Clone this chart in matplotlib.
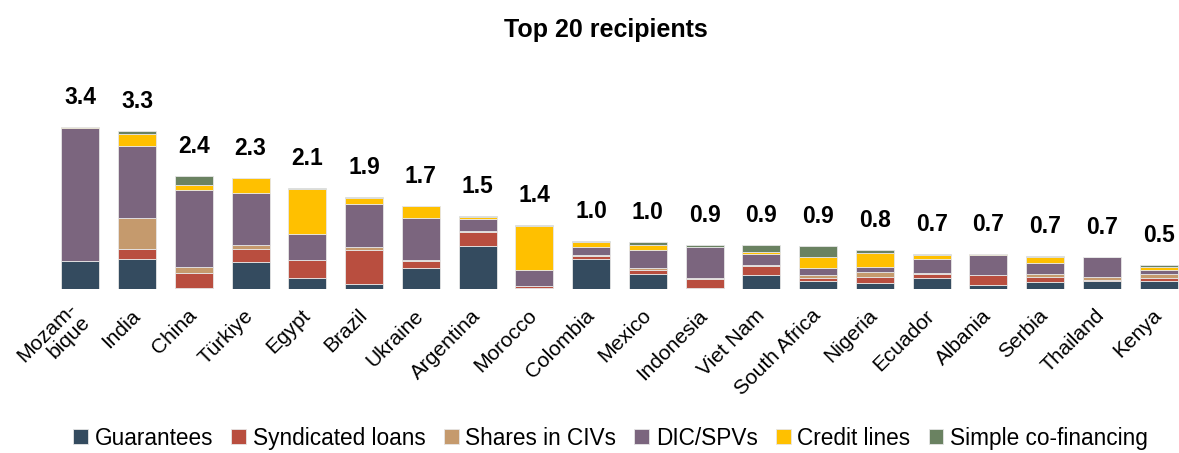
import numpy as np
import matplotlib
matplotlib.use("Agg")
import matplotlib.pyplot as plt
from matplotlib import font_manager

# -------------------------------
# Data (USD billion, by instrument)
# -------------------------------
countries = ["Mozam-\nbique", "India", "China", "Türkiye", "Egypt", "Brazil", "Ukraine",
             "Argentina", "Morocco", "Colombia", "Mexico", "Indonesia", "Viet Nam",
             "South Africa", "Nigeria", "Ecuador", "Albania", "Serbia", "Thailand", "Kenya"]

guarantees = [0.58, 0.64, 0.03, 0.57, 0.24, 0.10, 0.45, 0.91, 0.03, 0.64,
              0.31, 0.03, 0.29, 0.17, 0.13, 0.24, 0.09, 0.15, 0.17, 0.16]
syndicated = [0.00, 0.20, 0.31, 0.27, 0.36, 0.71, 0.13, 0.28, 0.03, 0.06,
              0.08, 0.18, 0.19, 0.07, 0.13, 0.08, 0.20, 0.11, 0.03, 0.08]
shares_civs = [0.00, 0.65, 0.13, 0.08, 0.01, 0.08, 0.03, 0.03, 0.01, 0.01,
               0.05, 0.02, 0.02, 0.05, 0.09, 0.02, 0.00, 0.05, 0.05, 0.08]
dic_spvs = [2.80, 1.52, 1.62, 1.09, 0.55, 0.89, 0.88, 0.25, 0.32, 0.17,
            0.39, 0.65, 0.24, 0.15, 0.11, 0.30, 0.43, 0.24, 0.43, 0.09]
credit_lines = [0.03, 0.24, 0.10, 0.33, 0.94, 0.13, 0.25, 0.04, 0.93, 0.10,
                0.09, 0.00, 0.03, 0.23, 0.29, 0.07, 0.02, 0.12, 0.00, 0.06]
co_financing = [0.00, 0.08, 0.18, 0.00, 0.03, 0.03, 0.00, 0.03, 0.03, 0.03,
                0.06, 0.04, 0.15, 0.23, 0.07, 0.02, 0.00, 0.03, 0.00, 0.03]

series = [
    ("Guarantees", guarantees, "#344b5f"),
    ("Syndicated loans", syndicated, "#b94e3f"),
    ("Shares in CIVs", shares_civs, "#c59a6d"),
    ("DIC/SPVs", dic_spvs, "#7b657e"),
    ("Credit lines", credit_lines, "#ffc000"),
    ("Simple co-financing", co_financing, "#6a8261"),
]

# -------------------------------
# Fonts
# -------------------------------
installed = {f.name for f in font_manager.fontManager.ttflist}
plt.rcParams["font.family"] = ["Liberation Sans", "DejaVu Sans"]
if "Liberation Sans Narrow" in installed:
    title_font, title_size = "Liberation Sans Narrow", 22
else:
    title_font, title_size = "Liberation Sans", 18

# -------------------------------
# Plot
# -------------------------------
fig = plt.figure(figsize=(11.79, 4.53), dpi=100)
ax = fig.add_axes([52 / 1179, 0.362, 1127 / 1179, 0.42])

x = np.arange(len(countries))
bottom = np.zeros(len(countries))
for name, vals, color in series:
    vals = np.array(vals)
    ax.bar(x, vals, 0.67, bottom=bottom, color=color, label=name,
           edgecolor="#e6e6e6", linewidth=0.6)
    bottom += vals

totals = bottom
for xi, t in zip(x, totals):
    ax.annotate(f"{t:.1f}", (xi, t), xytext=(0, 13), textcoords="offset points",
                ha="center", va="bottom", fontsize=16.5, fontweight="bold",
                annotation_clip=False)

ax.set_xlim(-0.5, 19.36)
ax.set_ylim(0, 4.0)
ax.set_yticks([])
ax.set_xticks(x)
ax.set_xticklabels(countries, rotation=45, ha="right", va="center",
                   rotation_mode="anchor", fontsize=15, linespacing=1.05)
ax.tick_params(axis="x", length=0, pad=17)
for s in ax.spines.values():
    s.set_visible(False)

fig.text(606 / 1179, 0.934, "Top 20 recipients", ha="center", va="center",
         fontsize=title_size, fontweight="bold", family=title_font)

fig.legend(loc="center", bbox_to_anchor=(0.518, 0.033), ncol=6, frameon=False,
           fontsize=16.3, handlelength=0.65, handleheight=0.65, handletextpad=0.3,
           columnspacing=0.8, borderaxespad=0)

fig.savefig("out.png", dpi=100)
